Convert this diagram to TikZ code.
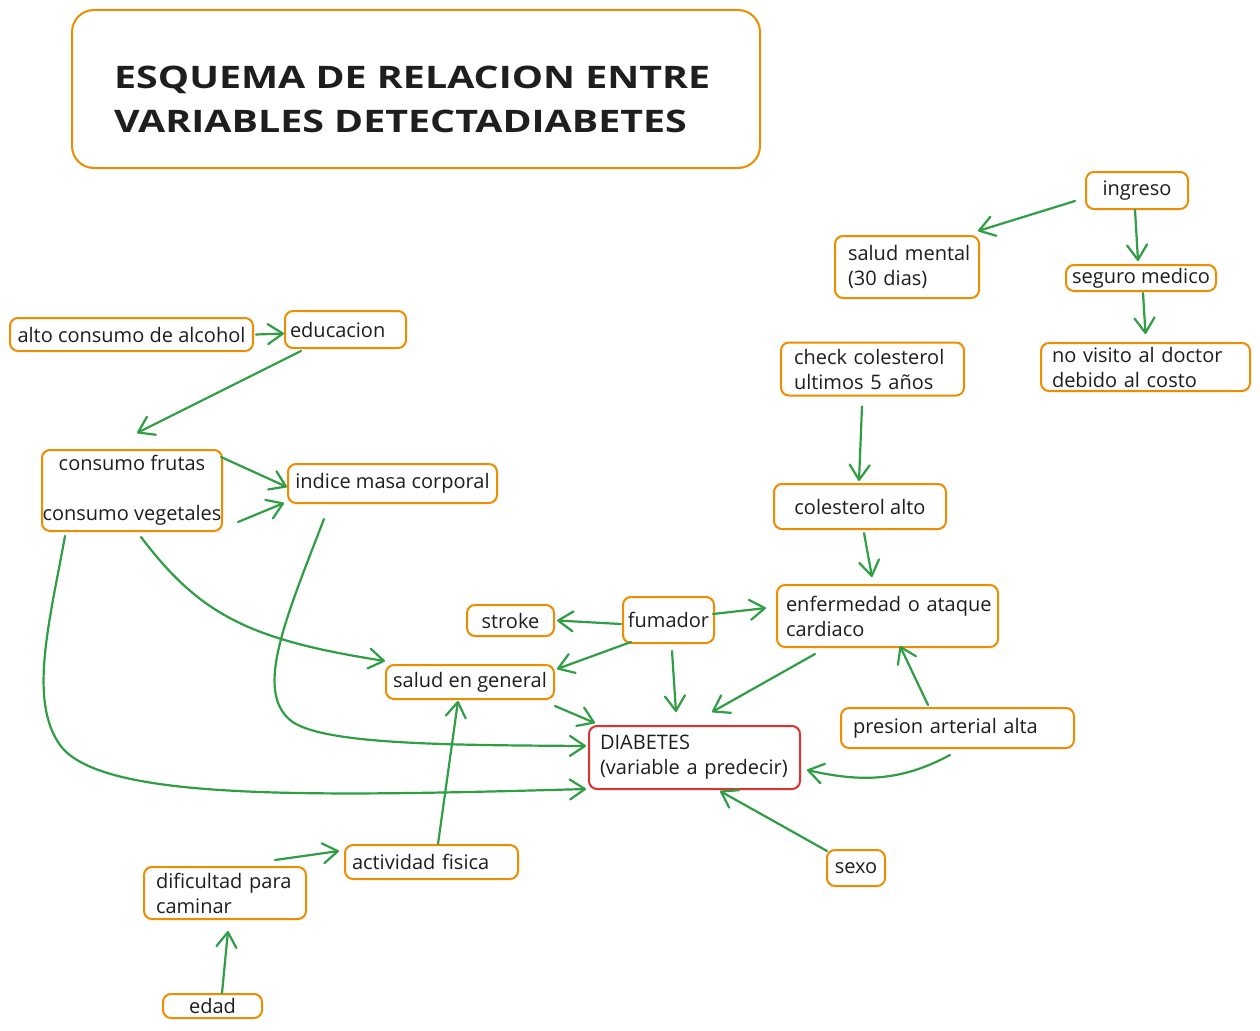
\documentclass[tikz,border=0pt]{standalone}
\usepackage{fontspec}
\usepackage{graphicx}
\setmainfont{Open Sans}
\usetikzlibrary{arrows.meta,calc}
\definecolor{boxorange}{HTML}{F08C00}
\definecolor{arrgreen}{HTML}{2F9E44}
\definecolor{boxred}{HTML}{E03131}
\definecolor{ink}{HTML}{1E1E1E}
\begin{document}
\begin{tikzpicture}[x=1pt,y=-1pt,
  box/.style={draw=boxorange, line width=2pt, rounded corners=8pt, inner sep=0pt,
    font=\fontsize{20}{25}\selectfont, text=ink, align=center, fill=white},
  lbox/.style={box, align=left},
  titlebox/.style={draw=boxorange, line width=2pt, rounded corners=22pt, fill=white},
  titletext/.style={font=\fontsize{31}{44}\selectfont\bfseries, text=ink, align=left, inner sep=0pt},
  arr/.style={draw=arrgreen, line width=2.2pt, line cap=round,
    -{Straight Barb[length=15pt,width=20pt,round]}}
]
\useasboundingbox (0,0) rectangle (1260,1030);
\fill[white] (0,0) rectangle (1260,1030);

% title
\node[titlebox, minimum width=688pt, minimum height=158pt] (title) at (416,89) {};
\node[titletext, anchor=west] (titletxt) at (114,99)
  {\scalebox{1.27}[1]{ESQUEMA DE RELACION ENTRE}\\\scalebox{1.27}[1]{VARIABLES DETECTADIABETES}};

% nodes
\node[box, minimum width=243pt, minimum height=33pt] (alto) at (131.5,334.5) {alto consumo de alcohol};
\node[lbox, minimum width=121pt, minimum height=37pt, inner xsep=5pt, text width=111pt] (edu) at (345.5,329.5) {educacion};
\node[box, minimum width=180pt, minimum height=81pt] (consumo) at (132,490.5) {consumo frutas\\\mbox{}\\consumo vegetales};
\node[box, minimum width=209pt, minimum height=39pt] (indice) at (392.5,483.5) {indice masa corporal};
\node[box, minimum width=87pt, minimum height=31pt] (stroke) at (510.5,620.5) {stroke};
\node[box, minimum width=91pt, minimum height=46pt] (fumador) at (668.5,620) {fumador};
\node[box, minimum width=168pt, minimum height=34pt] (saludgen) at (470,682) {salud en general};
\node[lbox, minimum width=221pt, minimum height=62pt, inner xsep=9pt, text width=203pt] (enfermedad) at (887.5,616) {\mbox{enfermedad o ataque}\\cardiaco};
\node[lbox, draw=boxred, minimum width=211pt, minimum height=63pt, inner xsep=11pt, text width=189pt] (diabetes) at (694.5,757.5) {DIABETES\\\mbox{(variable a predecir)}};
\node[lbox, minimum width=233pt, minimum height=40pt, inner xsep=12pt, text width=209pt] (presion) at (957.5,728) {presion arterial alta};
\node[box, minimum width=58pt, minimum height=36pt] (sexo) at (856,868) {sexo};
\node[lbox, minimum width=173pt, minimum height=34pt, inner xsep=7pt, text width=159pt] (actividad) at (431.5,862) {actividad fisica};
\node[lbox, minimum width=162pt, minimum height=52pt, inner xsep=12pt, text width=138pt] (dificultad) at (225,893) {\mbox{dificultad para}\\caminar};
\node[box, minimum width=99pt, minimum height=24pt] (edad) at (212.5,1006) {edad};
\node[box, minimum width=102pt, minimum height=37pt] (ingreso) at (1137,190.5) {ingreso};
\node[lbox, minimum width=144pt, minimum height=62pt, inner xsep=13pt, text width=118pt] (saludmental) at (907,267) {\mbox{salud mental}\\(30 dias)};
\node[box, minimum width=150pt, minimum height=26pt] (seguro) at (1141,278) {seguro medico};
\node[lbox, minimum width=209pt, minimum height=48pt, inner xsep=11pt, text width=187pt] (novisito) at (1145.5,367) {\mbox{no visito al doctor}\\\mbox{debido al costo}};
\node[lbox, minimum width=183pt, minimum height=53pt, inner xsep=13pt, text width=157pt] (check) at (872.5,369) {\mbox{check colesterol}\\\mbox{ultimos 5 años}};
\node[box, minimum width=172pt, minimum height=45pt] (colalto) at (860,506.5) {colesterol alto};

% connectors
\draw[arr] ($(alto.east)+(2,0)$) -- ($(edu.west)+(0,4)$);
\draw[arr] ($(edu.south west)+(17,2)$) -- ($(consumo.north)+(5,-16)$);
\draw[arr] ($(consumo.north east)+(-2,8)$) -- ($(indice.west)+(0,3.5)$);
\draw[arr] ($(consumo.south east)+(15,-10)$) -- ($(indice.south west)+(-3,-1)$);
\draw[arr] ($(consumo.south)+(9,5)$) .. controls (200,615) and (250,640) .. ($(saludgen.north west)+(0,-3)$);
\draw[arr] ($(indice.south west)+(37,15)$) .. controls (285,620) and (255,690) .. (290,720)
   .. controls (320,745) and (450,745) .. ($(diabetes.west)+(-2,-11.5)$);
\draw[arr] ($(consumo.south west)+(24,4)$) .. controls (50,620) and (28,700) .. (60,745)
   .. controls (100,800) and (300,797) .. ($(diabetes.south west)+(-2,-1)$);
\draw[arr] ($(fumador.west)+(-1,4)$) -- ($(stroke.east)+(2,0)$);
\draw[arr] ($(fumador.south west)+(9,-2)$) -- ($(saludgen.north east)+(2,5)$);
\draw[arr] ($(fumador.east)+(-2,-6)$) -- ($(enfermedad.west)+(-10,-8)$);
\draw[arr] ($(fumador.south)+(3.5,7)$) -- ($(diabetes.north)+(-18.5,-13)$);
\draw[arr] ($(saludgen.south east)+(0,6)$) -- ($(diabetes.north west)+(7,-2)$);
\draw[arr] ($(enfermedad.south west)+(39,6)$) -- ($(diabetes.north)+(17.5,-13)$);
\draw[arr] ($(presion.north)+(-29.5,-2)$) -- ($(enfermedad.south)+(12.5,-2)$);
\draw[arr] ($(presion.south)+(-7.5,6)$) .. controls (900,782) and (860,782) .. ($(diabetes.east)+(6,12.5)$);
\draw[arr] ($(sexo.north west)+(1,2)$) -- ($(diabetes.south)+(25.5,1)$);
\draw[arr] ($(actividad.north)+(6.5,0)$) -- ($(saludgen.south)+(-12,1)$);
\draw[arr] ($(dificultad.north east)+(-32,-6)$) -- ($(actividad.west)+(-5,-11)$);
\draw[arr] ($(edad.north)+(9.5,0)$) -- ($(dificultad.south)+(3,11)$);
\draw[arr] ($(ingreso.west)+(-10,10.5)$) -- ($(saludmental.north east)+(-2,-4)$);
\draw[arr] ($(ingreso.south)+(-2,0)$) -- ($(seguro.north)+(-3,-3)$);
\draw[arr] ($(seguro.south)+(2,1)$) -- ($(novisito.north)+(0,-8)$);
\draw[arr] ($(check.south)+(-10.5,10)$) -- ($(colalto.north)+(-1,-2)$);
\draw[arr] ($(colalto.south)+(4,3)$) -- ($(enfermedad.north)+(-15.5,-7)$);
\end{tikzpicture}
\end{document}
